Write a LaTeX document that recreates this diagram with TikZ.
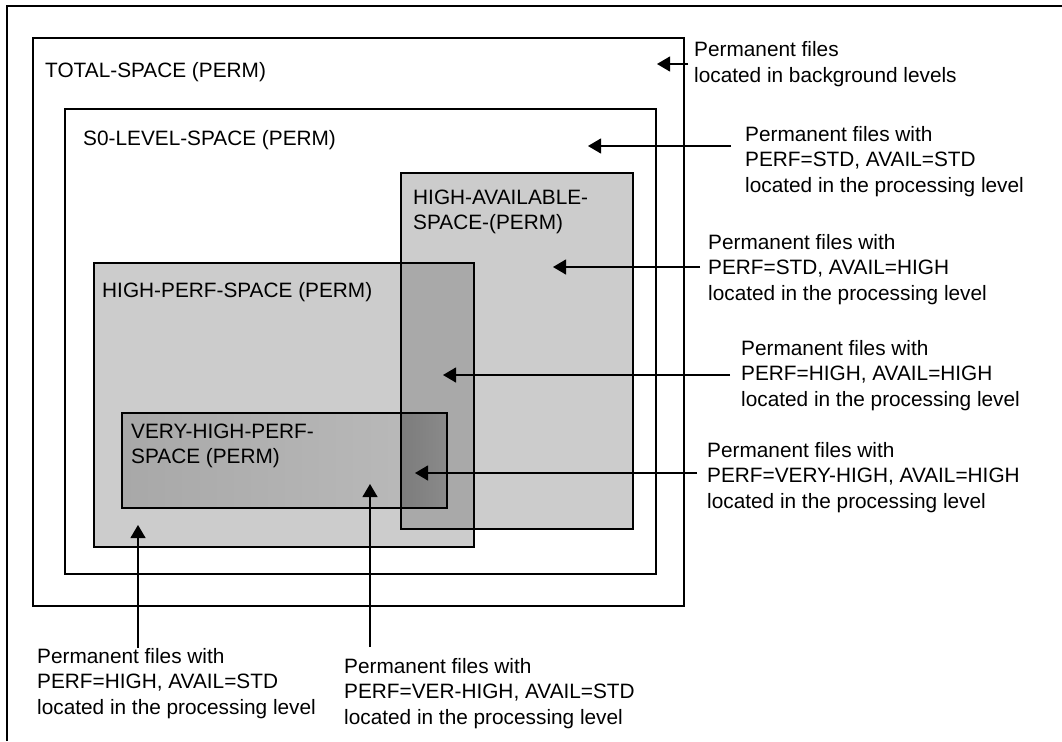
\documentclass[tikz,border=0pt]{standalone}
\usepackage{fontspec}
\setmainfont{Liberation Sans}
\usetikzlibrary{arrows.meta}
\definecolor{lightfill}{HTML}{CCCCCC}
\definecolor{midfill}{HTML}{A9A9A9}
\definecolor{vhpleft}{HTML}{A8A8A8}
\definecolor{vhpright}{HTML}{BBBBBB}
\definecolor{darkleft}{HTML}{7C7C7C}
\definecolor{darkright}{HTML}{8A8A8A}
\begin{document}
\begin{tikzpicture}[x=1pt,y=-1pt,
  box/.style={draw=none, inner sep=0pt, outer sep=0pt, anchor=north west},
  edge/.style={draw=black, line width=1.2pt},
  lbl/.style={font=\fontsize{20.8}{25.5}\selectfont, inner sep=0pt, anchor=base west, align=left},
  arr/.style={draw=black, line width=1.2pt, -{Triangle[length=13pt,width=15pt]}}
]
\useasboundingbox (0,0) rectangle (1062,741);
% outer frame (top and left only)
\coordinate (f1) at (7,741);
\coordinate (f2) at (7,6);
\coordinate (f3) at (1062,6);
\draw[edge] (f1) -- (f2) -- (f3);

% boxes
\node[box, minimum width=651pt, minimum height=568pt] (total) at (33,38) {};
\node[box, minimum width=591pt, minimum height=465pt] (s0) at (65,109) {};
\node[box, fill=lightfill, minimum width=232pt, minimum height=356pt] (ha) at (401,173) {};
\node[box, fill=lightfill, minimum width=380pt, minimum height=284pt] (hp) at (94,263) {};
% overlap HA / HP
\fill[midfill] (ha.west |- hp.north) rectangle (hp.east |- ha.south);
% very high perf
\node[box, left color=vhpleft, right color=vhpright, minimum width=325pt, minimum height=95pt] (vhp) at (122,413) {};
% overlap VHP / HA
\shade[left color=darkleft, right color=darkright] (ha.west |- vhp.north) rectangle (vhp.south east);

% outlines
\draw[edge] (total.north west) rectangle (total.south east);
\draw[edge] (s0.north west) rectangle (s0.south east);
\draw[edge] (ha.north west) rectangle (ha.south east);
\draw[edge] (hp.north west) rectangle (hp.south east);
\draw[edge] (vhp.north west) rectangle (vhp.south east);

% box titles (anchor = baseline of last line)
\node[lbl] (ttotal) at (45,78) {TOTAL-SPACE (PERM)};
\node[lbl] (ts0) at (83,146) {S0-LEVEL-SPACE (PERM)};
\node[lbl] (tha) at (413,229.5) {HIGH-AVAILABLE-\\SPACE-(PERM)};
\node[lbl] (thp) at (102,297) {HIGH-PERF-SPACE (PERM)};
\node[lbl] (tvhp) at (131,463.5) {VERY-HIGH-PERF-\\SPACE (PERM)};

% explanation labels
\node[lbl] (n1) at (694,82.5) {Permanent files\\located in background levels};
\node[lbl] (n2) at (745,192) {Permanent files with\\PERF=STD, AVAIL=STD\\located in the processing level};
\node[lbl] (n3) at (708,300) {Permanent files with\\PERF=STD, AVAIL=HIGH\\located in the processing level};
\node[lbl] (n4) at (741,406) {Permanent files with\\PERF=HIGH, AVAIL=HIGH\\located in the processing level};
\node[lbl] (n5) at (707,508) {Permanent files with\\PERF=VERY-HIGH, AVAIL=HIGH\\located in the processing level};
\node[lbl] (n6) at (37,714) {Permanent files with\\PERF=HIGH, AVAIL=STD\\located in the processing level};
\node[lbl] (n7) at (344,724) {Permanent files with\\PERF=VER-HIGH, AVAIL=STD\\located in the processing level};

% arrows
\coordinate (t1) at (657,64);  \coordinate (s1) at (688,64);
\coordinate (t2) at (588,146); \coordinate (s2) at (731,146);
\coordinate (t3) at (553,267); \coordinate (s3) at (700,267);
\coordinate (t4) at (443,375); \coordinate (s4) at (730,375);
\coordinate (t5) at (415,473); \coordinate (s5) at (697,473);
\coordinate (t6) at (138,525); \coordinate (s6) at (138,648);
\coordinate (t7) at (370,484); \coordinate (s7) at (370,647);
\draw[arr] (s1) -- (t1);
\draw[arr] (s2) -- (t2);
\draw[arr] (s3) -- (t3);
\draw[arr] (s4) -- (t4);
\draw[arr] (s5) -- (t5);
\draw[arr] (s6) -- (t6);
\draw[arr] (s7) -- (t7);
\end{tikzpicture}
\end{document}
